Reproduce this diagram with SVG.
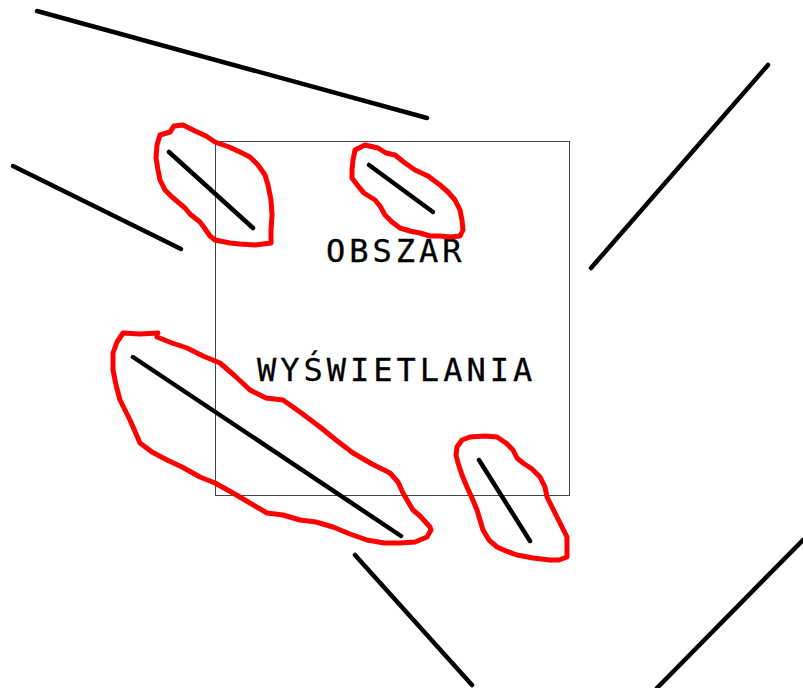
<svg xmlns="http://www.w3.org/2000/svg" width="803" height="688" viewBox="0 0 803 688">
<style>
.seg{stroke:#000;stroke-width:4.5;stroke-linecap:round;fill:none}
.loop{stroke:#f00;stroke-width:5;fill:none;stroke-linejoin:round;stroke-linecap:round}
.lbl{font-family:"DejaVu Sans Mono",monospace;font-size:32px;letter-spacing:4px;fill:#000;stroke:#000;stroke-width:0.3}
</style>
<rect width="803" height="688" fill="#fff"/>
<g id="area">
<rect x="215.5" y="141.5" width="354" height="354" fill="none" stroke="#444" stroke-width="1"/>
<text class="lbl" x="326" y="262">OBSZAR</text>
<text class="lbl" x="257" y="381">WYŚWIETLANIA</text>
</g>
<g id="segments">
<line class="seg" x1="37" y1="11" x2="427" y2="118"/>
<line class="seg" x1="13" y1="166" x2="181" y2="249"/>
<line class="seg" x1="169" y1="152" x2="253" y2="228"/>
<line class="seg" x1="369" y1="165" x2="433" y2="212"/>
<line class="seg" x1="133" y1="357" x2="401" y2="536"/>
<line class="seg" x1="479" y1="460" x2="530" y2="541"/>
<line class="seg" x1="591" y1="268" x2="768" y2="65"/>
<line class="seg" x1="355" y1="555" x2="472" y2="685"/>
<line class="seg" x1="657" y1="688" x2="803" y2="540"/>
</g>
<g id="loops">
<path class="loop" d="M160,135 L170,132 L174,126 L183,125 L195,131 L206,136 L215,142 L229,147 L240,152 L250,157 L258,165 L265,175 L268,185 L271,200 L272,215 L271,230 L271,243 L255,245 L240,244 L230,243 L215,240 L210,236 L203,226 L200,222 L190,214 L185,208 L172,197 L165,190 L160,180 L158,170 L156,158 L157,145 Z"/>
<path class="loop" d="M355,150 L365,145 L378,148 L386,153 L395,155 L405,163 L415,170 L428,176 L440,185 L448,192 L455,200 L460,210 L462,220 L463,230 L460,236 L450,237 L440,236 L430,236 L420,233 L410,231 L400,228 L392,222 L385,215 L380,206 L375,200 L364,193 L358,186 L352,178 L352,170 L353,160 Z"/>
<path class="loop" d="M158,333 L140,334 L123,333 L117,342 L113,353 L113,370 L116,385 L120,400 L130,420 L140,443 L152,452 L167,460 L182,467 L200,477 L215,483 L233,493 L250,503 L267,513 L283,515 L300,520 L316,522 L333,527 L350,534 L367,540 L384,543 L400,543 L415,542 L427,537 L431,530 L430,527 L420,516 L413,510 L407,500 L403,493 L398,482 L390,473 L372,464 L353,453 L336,440 L320,427 L300,412 L283,400 L266,398 L250,390 L235,376 L220,363 L203,356 L187,348 L172,343 L157,337"/>
<path class="loop" d="M457,447 L462,440 L470,437 L485,436 L497,437 L506,443 L513,450 L517,458 L523,463 L532,469 L540,477 L545,487 L547,497 L552,507 L557,517 L562,527 L567,537 L567,547 L567,557 L559,560 L550,560 L533,558 L517,555 L506,551 L497,547 L489,540 L483,530 L480,520 L477,510 L472,498 L467,487 L462,475 L458,463 L456,455 Z"/>
</g>
</svg>
